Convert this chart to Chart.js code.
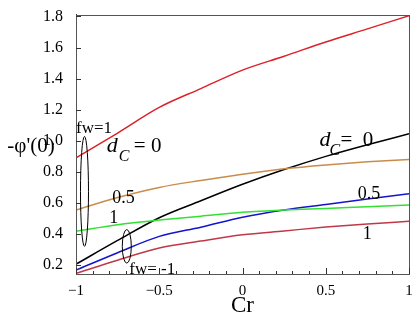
<!DOCTYPE html>
<html>
<head>
<meta charset="utf-8">
<script src="https://cdn.jsdelivr.net/npm/chart.js@4"></script>
<style>
html, body { margin: 0; padding: 0; background: #fff; }
</style>
</head>
<body>
<canvas id="grafico" width="418" height="323"></canvas>
<script>
// valores
const cr = [-1, -0.75, -0.5, -0.25, 0, 0.25, 0.5, 0.75, 1];
const fw1Dc0 = [0.89, 1.05, 1.215, 1.336, 1.455, 1.544, 1.636, 1.72, 1.805];
const fw1Dc05 = [0.555, 0.635, 0.70, 0.745, 0.785, 0.82, 0.845, 0.865, 0.88];
const fw1Dc1 = [0.418, 0.46, 0.49, 0.515, 0.54, 0.555, 0.565, 0.576, 0.587];
const fwm1Dc0 = [0.206, 0.359, 0.505, 0.614, 0.72, 0.815, 0.9, 0.975, 1.045];
const fwm1Dc05 = [0.168, 0.28, 0.385, 0.444, 0.508, 0.555, 0.59, 0.625, 0.66];
const fwm1Dc1 = [0.147, 0.232, 0.31, 0.355, 0.395, 0.42, 0.445, 0.465, 0.482];

const yTicks = [0.2, 0.4, 0.6, 0.8, 1.0, 1.2, 1.4, 1.6, 1.8];
const xTicks = [-1, -0.5, 0, 0.5, 1];
const xMinorTicks = [-0.9, -0.8, -0.7, -0.6, -0.4, -0.3, -0.2, -0.1, 0.1, 0.2, 0.3, 0.4, 0.6, 0.7, 0.8, 0.9];

const serif = "'Liberation Serif', 'Times New Roman', serif";

function pontos(valores) {
    return cr.map((x, i) => ({ x: x, y: valores[i] }));
}

function serie(valores, cor) {
    return {
        data: pontos(valores),
        borderColor: cor,
        backgroundColor: cor,
        borderWidth: 1.5,
        pointRadius: 0,
        cubicInterpolationMode: 'monotone',
        fill: false
    };
}

function menos(v) {
    return String(v).replace('-', '\u2212');
}

// textos e elipses em coordenadas dos dados
const textos = [
    { t: 'fw=1', x: -1.0, y: 1.047, size: 17 },
    { t: '0.5', x: -0.782, y: 0.601, size: 18 },
    { t: '1', x: -0.80, y: 0.468, size: 18 },
    { t: 'fw= -1', x: -0.68, y: 0.143, size: 17 },
    { t: '0.5', x: 0.692, y: 0.627, size: 18 },
    { t: '1', x: 0.722, y: 0.366, size: 18 }
];
const rotulosDc = [
    { x: -0.815, y: 0.93, eq: '= 0', gapC: 12, gapEq: 27 },
    { x: 0.462, y: 0.964, eq: '=  0', gapC: 10, gapEq: 21 }
];
const elipses = [
    { x: -0.949, yTop: 1.028, yBottom: 0.321, rx: 4 },
    { x: -0.695, yTop: 0.429, yBottom: 0.213, rx: 4.5 }
];

const anotacoes = {
    id: 'anotacoes',
    afterDatasetsDraw(chart) {
        const ctx = chart.ctx;
        const sx = chart.scales.x;
        const sy = chart.scales.y;
        const area = chart.chartArea;
        ctx.save();

        // moldura
        ctx.strokeStyle = '#555';
        ctx.lineWidth = 1;
        ctx.strokeRect(Math.round(area.left) + 0.5, Math.round(area.top) + 0.5,
            Math.round(area.right - area.left), Math.round(area.bottom - area.top));

        // marcas para dentro
        ctx.strokeStyle = '#333';
        ctx.beginPath();
        xTicks.forEach(v => {
            const px = Math.round(sx.getPixelForValue(v)) + 0.5;
            ctx.moveTo(px, area.bottom);
            ctx.lineTo(px, area.bottom - 6);
        });
        xMinorTicks.forEach(v => {
            const px = Math.round(sx.getPixelForValue(v)) + 0.5;
            ctx.moveTo(px, area.bottom);
            ctx.lineTo(px, area.bottom - 3);
        });
        yTicks.forEach(v => {
            const py = Math.round(sy.getPixelForValue(v)) + 0.5;
            ctx.moveTo(area.left, py);
            ctx.lineTo(area.left + 5, py);
        });
        ctx.stroke();

        // elipses
        ctx.strokeStyle = '#000';
        ctx.lineWidth = 1;
        elipses.forEach(e => {
            const cx = sx.getPixelForValue(e.x);
            const y1 = sy.getPixelForValue(e.yTop);
            const y2 = sy.getPixelForValue(e.yBottom);
            ctx.beginPath();
            ctx.ellipse(cx, (y1 + y2) / 2, e.rx, (y2 - y1) / 2, 0, 0, Math.PI * 2);
            ctx.stroke();
        });

        // textos
        ctx.fillStyle = '#000';
        ctx.textBaseline = 'alphabetic';
        ctx.textAlign = 'left';
        textos.forEach(r => {
            ctx.font = r.size + 'px ' + serif;
            ctx.fillText(r.t, sx.getPixelForValue(r.x), sy.getPixelForValue(r.y));
        });
        rotulosDc.forEach(r => {
            const px = sx.getPixelForValue(r.x);
            const py = sy.getPixelForValue(r.y);
            ctx.font = 'italic 22px ' + serif;
            ctx.fillText('d', px, py);
            ctx.font = 'italic 16px ' + serif;
            ctx.fillText('C', px + r.gapC, py + 9);
            ctx.font = '21px ' + serif;
            ctx.fillText(r.eq, px + r.gapEq, py);
        });

        // titulo do eixo y na horizontal
        ctx.font = '21px ' + serif;
        ctx.textAlign = 'center';
        ctx.fillText("-\u03c6'(0)", 31, 152);
        ctx.restore();
    }
};

new Chart(document.querySelector('#grafico'), {
    type: 'line',
    data: {
        datasets: [
            serie(fw1Dc0, '#dc2228'),
            serie(fw1Dc05, '#c98c4a'),
            serie(fw1Dc1, '#33e033'),
            serie(fwm1Dc0, '#000000'),
            serie(fwm1Dc05, '#1414cc'),
            serie(fwm1Dc1, '#c03848')
        ]
    },
    options: {
        responsive: false,
        animation: false,
        devicePixelRatio: 1,
        layout: { padding: { left: 0, right: 9, top: 12, bottom: 0 } },
        plugins: { legend: { display: false }, tooltip: { enabled: false } },
        scales: {
            x: {
                type: 'linear',
                min: -1,
                max: 1,
                afterBuildTicks: s => { s.ticks = xTicks.map(v => ({ value: v })); },
                afterFit: s => { s.height = 49; },
                grid: { display: false },
                border: { display: true, color: '#333' },
                ticks: {
                    callback: v => menos(v),
                    font: { family: serif, size: 15 },
                    color: '#000',
                    padding: 0,
                    maxRotation: 0
                },
                title: {
                    display: true,
                    text: 'Cr',
                    font: { family: serif, size: 23 },
                    color: '#000',
                    padding: { top: 0, bottom: 3 }
                }
            },
            y: {
                type: 'linear',
                min: 0.143,
                max: 1.812,
                afterBuildTicks: s => { s.ticks = yTicks.map(v => ({ value: v })); },
                afterFit: s => { s.width = 76; },
                grid: { display: false },
                border: { display: true, color: '#333' },
                ticks: {
                    callback: v => v.toFixed(1),
                    font: { family: serif, size: 16 },
                    color: '#000',
                    padding: 5
                }
            }
        }
    },
    plugins: [anotacoes]
});
</script>
</body>
</html>
